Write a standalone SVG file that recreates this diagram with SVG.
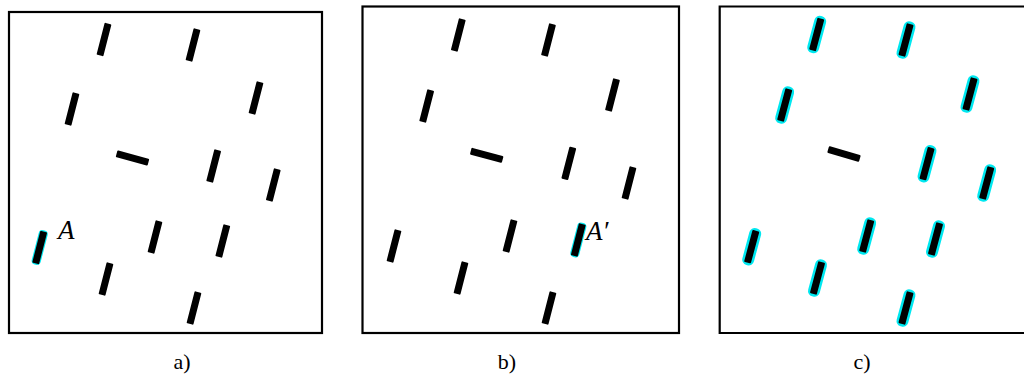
<svg xmlns="http://www.w3.org/2000/svg" width="1024" height="375" viewBox="0 0 1024 375">
<style>
.frame{fill:none;stroke:#000;stroke-width:2.2}
.bar{fill:#000}
.hl{fill:#00e8f0}
.lbl{font-family:"Liberation Serif","Times New Roman",serif;font-size:22px;fill:#000}
.pt{font-family:"Liberation Serif","Times New Roman",serif;font-style:italic;font-size:27px;fill:#000}
</style>
<defs>
<rect id="v" class="bar" x="-3.5" y="-16.5" width="7" height="33" rx="1"/>
<rect id="h" class="bar" x="-16.5" y="-3.5" width="33" height="7" rx="1"/>
<rect id="vc" class="hl" x="-6" y="-19" width="12" height="38" rx="5.5"/>
<rect id="va" class="hl" x="-4.6" y="-17.6" width="9.2" height="35.2" rx="4"/>
</defs>
<rect width="1024" height="375" fill="#fff"/>

<g id="panel-a">
<rect class="frame" x="9" y="12" width="313" height="321"/>
<use href="#v" transform="translate(104,39.5) rotate(14.5)"/>
<use href="#v" transform="translate(193,45) rotate(14.5)"/>
<use href="#v" transform="translate(72,109) rotate(14.5)"/>
<use href="#v" transform="translate(256,98) rotate(14.5)"/>
<use href="#h" transform="translate(132.5,158) rotate(15)"/>
<use href="#v" transform="translate(213.7,166) rotate(14.5)"/>
<use href="#v" transform="translate(273.3,185) rotate(14.5)"/>
<g id="bar-A">
<use href="#va" transform="translate(39.7,247.5) rotate(14.5)"/>
<use href="#v" transform="translate(39.7,247.5) rotate(14.5)"/>
</g>
<use href="#v" transform="translate(155,237) rotate(14.5)"/>
<use href="#v" transform="translate(222.8,241) rotate(14.5)"/>
<use href="#v" transform="translate(106,279) rotate(14.5)"/>
<use href="#v" transform="translate(194,308) rotate(14.5)"/>
<text class="pt" x="58" y="239">A</text>
</g>

<g id="panel-b">
<rect class="frame" x="362.5" y="6.5" width="316.5" height="326.5"/>
<use href="#v" transform="translate(458.3,35) rotate(14.5)"/>
<use href="#v" transform="translate(548.5,40) rotate(14.5)"/>
<use href="#v" transform="translate(426.7,106) rotate(14.5)"/>
<use href="#v" transform="translate(612.5,95) rotate(14.5)"/>
<use href="#h" transform="translate(486.7,155.3) rotate(15)"/>
<use href="#v" transform="translate(568.8,163.3) rotate(14.5)"/>
<use href="#v" transform="translate(629,183) rotate(14.5)"/>
<use href="#v" transform="translate(394,246) rotate(14.5)"/>
<use href="#v" transform="translate(510,236) rotate(14.5)"/>
<g id="bar-A-prime">
<use href="#va" transform="translate(578.3,240) rotate(14.5)"/>
<use href="#v" transform="translate(578.3,240) rotate(14.5)"/>
</g>
<use href="#v" transform="translate(461,278) rotate(14.5)"/>
<use href="#v" transform="translate(549,308) rotate(14.5)"/>
<text class="pt" x="586" y="240">A′</text>
</g>

<g id="panel-c">
<path class="frame" d="M1026,6.5 H719.7 V333 H1026"/>
<g id="c-1"><use href="#vc" transform="translate(816.7,34.5) rotate(15)"/><use href="#v" transform="translate(816.7,34.5) rotate(15)"/></g>
<g id="c-2"><use href="#vc" transform="translate(906,40) rotate(15)"/><use href="#v" transform="translate(906,40) rotate(15)"/></g>
<g id="c-3"><use href="#vc" transform="translate(784.7,105) rotate(15)"/><use href="#v" transform="translate(784.7,105) rotate(15)"/></g>
<g id="c-4"><use href="#vc" transform="translate(970,94) rotate(15)"/><use href="#v" transform="translate(970,94) rotate(15)"/></g>
<use href="#h" transform="translate(844,154) rotate(16)"/>
<g id="c-6"><use href="#vc" transform="translate(927,163.7) rotate(15)"/><use href="#v" transform="translate(927,163.7) rotate(15)"/></g>
<g id="c-7"><use href="#vc" transform="translate(986.7,183) rotate(15)"/><use href="#v" transform="translate(986.7,183) rotate(15)"/></g>
<g id="c-8"><use href="#vc" transform="translate(751.7,246.7) rotate(15)"/><use href="#v" transform="translate(751.7,246.7) rotate(15)"/></g>
<g id="c-9"><use href="#vc" transform="translate(866.7,236) rotate(15)"/><use href="#v" transform="translate(866.7,236) rotate(15)"/></g>
<g id="c-10"><use href="#vc" transform="translate(935.5,239) rotate(15)"/><use href="#v" transform="translate(935.5,239) rotate(15)"/></g>
<g id="c-11"><use href="#vc" transform="translate(817.5,278) rotate(15)"/><use href="#v" transform="translate(817.5,278) rotate(15)"/></g>
<g id="c-12"><use href="#vc" transform="translate(906,308) rotate(15)"/><use href="#v" transform="translate(906,308) rotate(15)"/></g>
</g>

<g id="captions">
<text class="lbl" x="182" y="369" text-anchor="middle">a)</text>
<text class="lbl" x="507" y="369" text-anchor="middle">b)</text>
<text class="lbl" x="862" y="369" text-anchor="middle">c)</text>
</g>
</svg>
